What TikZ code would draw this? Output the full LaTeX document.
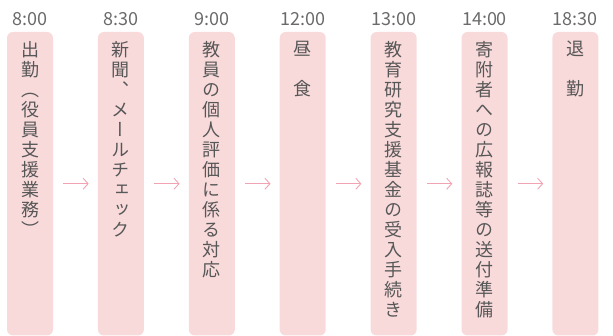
\documentclass[tikz,border=0pt]{standalone}
\usepackage{fontspec}
\usetikzlibrary{arrows.meta}
\setmainfont{Noto Sans CJK JP}
\newfontfamily\jpv[RawFeature=+vert]{Noto Sans CJK JP}
\definecolor{boxfill}{HTML}{F9DADB}
\definecolor{txt}{HTML}{575757}
\definecolor{timec}{HTML}{6A6A6A}
\definecolor{arrc}{HTML}{F2A3B3}
\begin{document}
\begin{tikzpicture}[x=1pt,y=1pt,
  boxst/.style={fill=boxfill, rounded corners=6pt, minimum width=46pt, minimum height=303.5pt, inner sep=0pt},
  timest/.style={text=timec, font=\fontsize{18}{20}\selectfont, inner sep=0pt},
  colst/.style={text=txt, font=\jpv\fontsize{18}{20}\selectfont, align=center, inner sep=0pt, anchor=north},
  arr/.style={draw=arrc, line width=0.9pt, -{Straight Barb[length=5pt,width=11pt]}, shorten <=10pt, shorten >=9pt}]
\useasboundingbox (0,0) rectangle (613,-336);
\foreach \i/\x/\t in {1/30/8:00,2/120.9/8:30,3/211.8/9:00,4/302.7/12:00,5/393.6/13:00,6/484.5/14:00,7/575.4/18:30}{
  \node[boxst] (b\i) at (\x,-183.75) {};
  \node[timest] (t\i) at (\x,-19) {\t};
}
\node[colst] (c1) at (30,-41) {出\\勤\\（\\役\\員\\支\\援\\業\\務\\）};
\node[colst] (c2) at (120.9,-41) {新\\聞\\、\\メ\\ー\\ル\\チ\\ェ\\ッ\\ク};
\node[colst] (c3) at (211.8,-41) {教\\員\\の\\個\\人\\評\\価\\に\\係\\る\\対\\応};
\node[colst] (c4) at (302.7,-41) {昼\\　\\食};
\node[colst] (c5) at (393.6,-41) {教\\育\\研\\究\\支\\援\\基\\金\\の\\受\\入\\手\\続\\き};
\node[colst] (c6) at (484.5,-41) {寄\\附\\者\\へ\\の\\広\\報\\誌\\等\\の\\送\\付\\準\\備};
\node[colst] (c7) at (575.4,-41) {退\\　\\勤};
\foreach \a/\b in {1/2,2/3,3/4,4/5,5/6,6/7}{
  \draw[arr] (b\a) -- (b\b);
}
\end{tikzpicture}
\end{document}
